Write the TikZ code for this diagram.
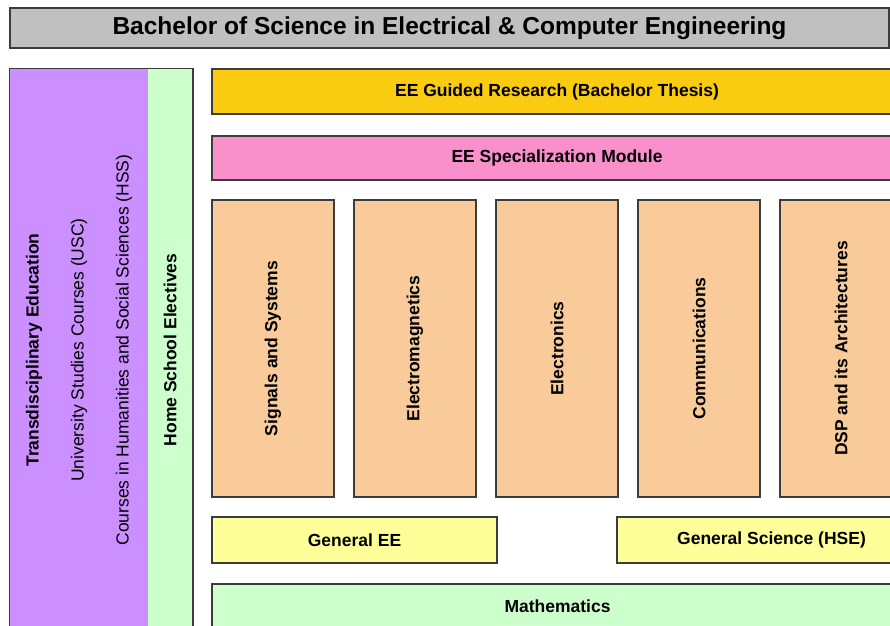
\documentclass[tikz,border=0pt]{standalone}
\usepackage{fontspec}
\setmainfont{Liberation Sans}
\definecolor{titlegray}{RGB}{192,192,192}
\definecolor{tdepurple}{RGB}{204,143,255}
\definecolor{lightgreen}{RGB}{204,255,204}
\definecolor{thesisgold}{RGB}{249,204,18}
\definecolor{specpink}{RGB}{249,143,203}
\definecolor{corepeach}{RGB}{250,203,154}
\definecolor{genyellow}{RGB}{255,255,153}
\definecolor{edgegray}{RGB}{60,60,60}
\tikzset{
  module/.style={draw=edgegray, line width=1.5pt, inner sep=0pt, align=center,
    font=\fontsize{17.5}{21}\selectfont\bfseries},
  corebox/.style={module, fill=corepeach, rotate=90,
    minimum width=297pt, minimum height=122pt},
}

\begin{document}
\begin{tikzpicture}[x=1pt, y=-1pt]
  \clip (0,0) rectangle (890,625);
  \fill[white] (0,0) rectangle (890,625);
  \node [module, fill=titlegray, minimum width=879pt, minimum height=40pt,
    font=\fontsize{24.5}{28}\selectfont\bfseries] (degree) at (449.5,28)
    {Bachelor of Science in Electrical \& Computer Engineering};

  \node [module, draw=none, fill=tdepurple, rotate=90, minimum width=562pt,
    minimum height=138pt, font=\fontsize{17.5}{45}\selectfont] (tde) at (79,350)
    {\textbf{Transdisciplinary Education}\\University Studies Courses (USC)\\
     Courses in Humanities and Social Sciences (HSS)};
  \node [module, draw=none, fill=lightgreen, rotate=90, minimum width=562pt,
    minimum height=44pt] (electives) at (170,350) {Home School Electives};
  \draw [draw=edgegray, line width=1.5pt] (tde.north east) rectangle (electives.south west);

  \node [module, fill=thesisgold, minimum width=690pt, minimum height=45pt] (thesis)
    at (557,91.5) {EE Guided Research (Bachelor Thesis)};
  \node [module, fill=specpink, minimum width=690pt, minimum height=44pt] (special)
    at (557,158) {EE Specialization Module};

  \node [corebox] (signals) at (273,348.5) {Signals and Systems};
  \node [corebox] (emag) at (415,348.5) {Electromagnetics};
  \node [corebox] (electronics) at (557,348.5) {Electronics};
  \node [corebox] (comm) at (699,348.5) {Communications};
  \node [corebox] (dsp) at (841,348.5) {DSP and its Architectures};

  \node [module, fill=genyellow, minimum width=285pt, minimum height=46pt] (genee)
    at (354.5,540) {General EE};
  \node [module, fill=genyellow, minimum width=309pt, minimum height=46pt] (gensci)
    at (771.5,540) {General Science (HSE)};

  \node [module, fill=lightgreen, minimum width=691pt, minimum height=44pt] (math)
    at (557.5,606) {Mathematics};
\end{tikzpicture}
\end{document}
